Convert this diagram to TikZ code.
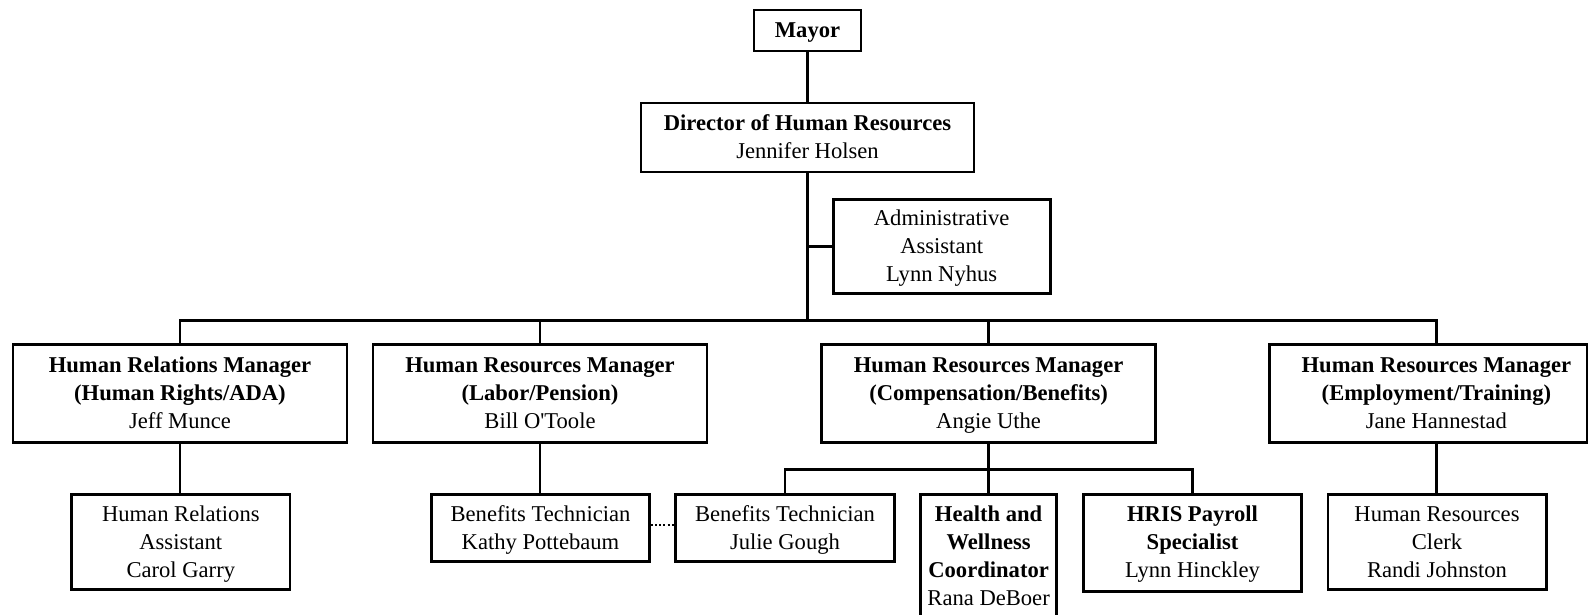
\documentclass[tikz,border=0pt]{standalone}
\usepackage{fontspec}
\setmainfont{Liberation Serif}
\newcommand\chartfs{\fontsize{22.6}{28}\selectfont}
\newcommand\cs{\rule[-7pt]{0pt}{28pt}}
\tikzset{
  box/.style={draw, line width=2.7pt, inner sep=0pt, align=center, font=\chartfs},
  plaintext/.style={inner sep=0pt, align=center, font=\chartfs},
  link/.style={line width=2.7pt, line join=miter},
  dotlink/.style={line width=2.7pt, dash pattern=on 2pt off 2.2pt},
}
\begin{document}
\begin{tikzpicture}[x=1pt,y=-1pt]
\fill[white] (0,0) rectangle (1590,614);
\useasboundingbox (0,0) rectangle (1590,614);

\node[box, minimum width=107, minimum height=41] (mayor) at (807.5,30.5) {\cs\bfseries Mayor};
\node[box, minimum width=333, minimum height=69] (dir) at (807.5,137.4) {\cs\textbf{Director of Human Resources}\\\cs Jennifer Holsen};
\node[box, minimum width=217, minimum height=94] (admin) at (941.7,246.2) {\cs Administrative\\\cs Assistant\\\cs Lynn Nyhus};
\coordinate (bus) at (807.5,320.5);

\node[box, minimum width=334, minimum height=98] (hrm1) at (180,393.5) {\cs\textbf{Human Relations Manager}\\\cs\textbf{(Human Rights/ADA)}\\\cs Jeff Munce};
\node[box, minimum width=334, minimum height=98] (hrm2) at (540,393.5) {\cs\textbf{Human Resources Manager}\\\cs\textbf{(Labor/Pension)}\\\cs Bill O\textquotesingle Toole};
\node[box, minimum width=334, minimum height=98] (hrm3) at (988.6,393.5) {\cs\textbf{Human Resources Manager}\\\cs\textbf{(Compensation/Benefits)}\\\cs Angie Uthe};
\node[box, minimum width=317.6, minimum height=98] (hrm4) at (1428.2,393.5) {};
\node[plaintext] (hrm4t) at (1436.4,393.5) {\cs\textbf{Human Resources Manager}\\\cs\textbf{(Employment/Training)}\\\cs Jane Hannestad};

\node[box, minimum width=218.4, minimum height=95.4] (hra) at (180.8,542) {\cs Human Relations\\\cs Assistant\\\cs Carol Garry};
\node[box, minimum width=218, minimum height=67.4] (kathy) at (540.5,528) {\cs Benefits Technician\\\cs Kathy Pottebaum};
\node[box, minimum width=218.7, minimum height=67.4] (julie) at (785,528) {\cs Benefits Technician\\\cs Julie Gough};
\node[box, minimum width=136.2, minimum height=123.4] (health) at (988.6,556) {\cs\textbf{Health and}\\\cs\textbf{Wellness}\\\cs\textbf{Coordinator}\\\cs Rana DeBoer};
\node[box, minimum width=218.3, minimum height=97] (hris) at (1192.5,542.8) {\cs\textbf{HRIS Payroll}\\\cs\textbf{Specialist}\\\cs Lynn Hinckley};
\node[box, minimum width=218.3, minimum height=95.4] (clerk) at (1437,542) {\cs Human Resources\\\cs Clerk\\\cs Randi Johnston};
\coordinate (sub) at (988.6,469.3);

\draw[link] (mayor.south) -- (dir.north);
\draw[link] (dir.south) -- (bus);
\draw[link] (admin.west) -- (admin.west -| bus);
\draw[link] (hrm1.north) -- (hrm1.north |- bus) -- (hrm4t.north |- bus) -- (hrm4t |- hrm4.north);
\draw[link] (hrm2.north) -- (hrm2.north |- bus);
\draw[link] (hrm3.north) -- (hrm3.north |- bus);
\draw[link] (hrm1.south) -- (hrm1.south |- hra.north);
\draw[link] (hrm2.south) -- (hrm2.south |- kathy.north);
\draw[link] (hrm3.south) -- (hrm3.south |- health.north);
\draw[link] (julie.north) -- (julie.north |- sub) -- (hris.north |- sub) -- (hris.north);
\draw[link] (hrm4t |- hrm4.south) -- (hrm4t |- clerk.north);
\draw[dotlink] ([yshift=3pt]kathy.east) -- ([yshift=3pt]julie.west);
\end{tikzpicture}
\end{document}
